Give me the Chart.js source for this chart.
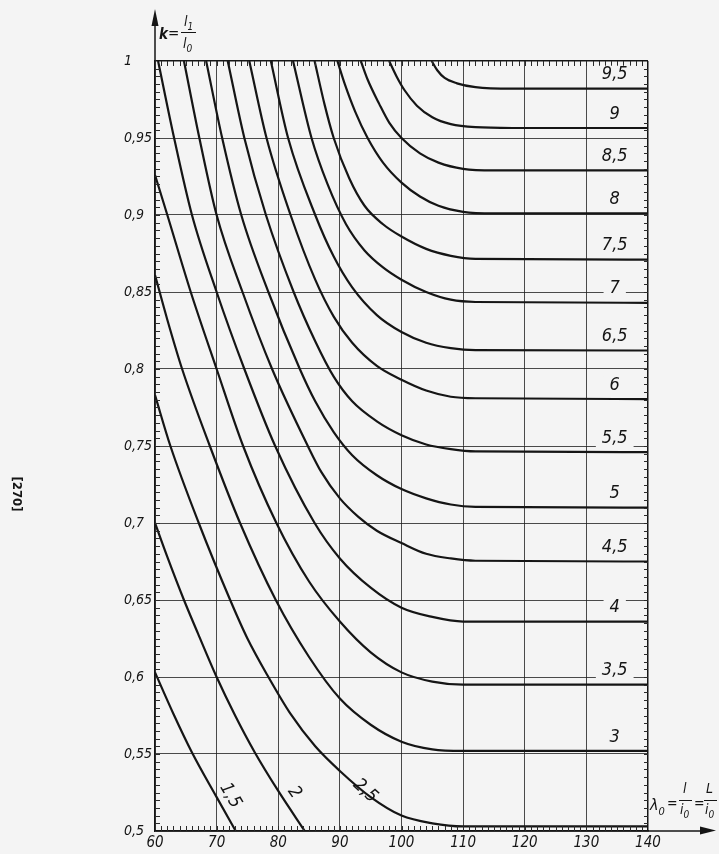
<!DOCTYPE html>
<html>
<head>
<meta charset="utf-8">
<style>
  html, body { margin: 0; padding: 0; background: #f4f4f4; }
  #wrap { width: 719px; height: 854px; }
</style>
</head>
<body>
<div id="wrap"><canvas id="chart" width="719" height="854"></canvas></div>
<script src="https://cdn.jsdelivr.net/npm/chart.js@4.4.1/dist/chart.umd.min.js"></script>
<script>
"use strict";

// axis ticks
const xTicks = [60, 70, 80, 90, 100, 110, 120, 130, 140];
const xTickLabels = ["60", "70", "80", "90", "100", "110", "120", "130", "140"];
const yTicks = [0.5, 0.55, 0.6, 0.65, 0.7, 0.75, 0.8, 0.85, 0.9, 0.95, 1];
const yTickLabels = ["0,5", "0,55", "0,6", "0,65", "0,7", "0,75", "0,8", "0,85", "0,9", "0,95", "1"];

// curve parameters (labels)
const curveNames = ["1,5", "2", "2,5", "3", "3,5", "4", "4,5", "5", "5,5", "6", "6,5", "7", "7,5", "8", "8,5", "9", "9,5"];

// [lambda0, k]
const c1_5 = [[60, 0.603], [63, 0.576], [66, 0.551], [70, 0.522], [73.1, 0.500]];
const c2 = [[60, 0.700], [62, 0.678], [64.7, 0.650], [67, 0.628], [70, 0.600], [73, 0.575], [76.2, 0.551], [80, 0.526], [84.3, 0.500]];
const c2_5 = [[60, 0.783], [62.5, 0.750], [67.1, 0.700], [72.2, 0.650], [75, 0.625], [78.4, 0.600], [82, 0.576], [86, 0.555], [90, 0.539], [95, 0.522], [100, 0.510], [105, 0.505], [110, 0.503], [140, 0.503]];
const c3 = [[60, 0.861], [62, 0.832], [64.4, 0.800], [68.9, 0.750], [73.8, 0.700], [79.6, 0.650], [85, 0.613], [90, 0.586], [95, 0.569], [100, 0.558], [105, 0.553], [110, 0.552], [140, 0.552]];
const c3_5 = [[60, 0.926], [62, 0.900], [65.8, 0.850], [70, 0.800], [74.3, 0.750], [79.7, 0.700], [85, 0.662], [90, 0.636], [95, 0.616], [100, 0.603], [105, 0.597], [110, 0.595], [140, 0.595]];
const c4 = [[60.5, 1.000], [63.1, 0.950], [66, 0.900], [70, 0.850], [74.5, 0.800], [79.5, 0.750], [85.9, 0.700], [90, 0.677], [95, 0.658], [100, 0.645], [105, 0.639], [110, 0.636], [140, 0.636]];
const c4_5 = [[64.7, 1.000], [67.2, 0.950], [70, 0.900], [74.2, 0.850], [79, 0.800], [84.8, 0.750], [87, 0.733], [90, 0.716], [93, 0.704], [96, 0.695], [100, 0.687], [104, 0.680], [108, 0.677], [112, 0.6755], [140, 0.675]];
const c5 = [[68.3, 1.000], [70.9, 0.950], [74, 0.900], [78.4, 0.850], [83.5, 0.800], [86, 0.779], [89, 0.759], [92, 0.744], [96, 0.731], [100, 0.722], [104, 0.716], [108, 0.712], [112, 0.7105], [140, 0.710]];
const c5_5 = [[71.8, 1.000], [74.5, 0.950], [78, 0.900], [82.5, 0.850], [86, 0.818], [89, 0.795], [92, 0.779], [96, 0.766], [100, 0.757], [104, 0.751], [108, 0.748], [112, 0.7465], [140, 0.746]];
const c6 = [[75.3, 1.000], [78.1, 0.950], [82, 0.900], [86, 0.858], [89, 0.834], [92, 0.817], [96, 0.802], [100, 0.793], [104, 0.786], [108, 0.782], [112, 0.781], [140, 0.7805]];
const c6_5 = [[78.8, 1.000], [81.6, 0.950], [86, 0.900], [89, 0.873], [92, 0.853], [96, 0.835], [100, 0.824], [104, 0.817], [108, 0.8135], [112, 0.8122], [140, 0.812]];
const c7 = [[82.4, 1.000], [85.4, 0.950], [88, 0.920], [91, 0.894], [94, 0.877], [97, 0.866], [100, 0.858], [104, 0.850], [108, 0.845], [112, 0.8435], [140, 0.843]];
const c7_5 = [[85.9, 1.000], [87.5, 0.972], [89, 0.950], [91.5, 0.924], [94, 0.906], [97, 0.894], [100, 0.886], [104, 0.878], [108, 0.8735], [112, 0.8715], [140, 0.871]];
const c8 = [[89.6, 1.000], [90.8, 0.985], [92.5, 0.967], [94.5, 0.950], [97, 0.934], [100, 0.921], [103, 0.912], [106, 0.906], [110, 0.902], [115, 0.901], [140, 0.901]];
const c8_5 = [[93.4, 1.000], [94.5, 0.988], [96.4, 0.972], [98, 0.960], [100, 0.950], [103, 0.940], [106, 0.934], [110, 0.930], [115, 0.929], [140, 0.929]];
const c9 = [[98, 1.000], [99.2, 0.990], [100.5, 0.981], [102.5, 0.971], [105, 0.9635], [108, 0.959], [112, 0.957], [118, 0.9565], [140, 0.9565]];
const c9_5 = [[104.9, 1.000], [105.8, 0.994], [107, 0.989], [109, 0.9855], [112, 0.983], [118, 0.982], [140, 0.982]];

const curves = [c1_5, c2, c2_5, c3, c3_5, c4, c4_5, c5, c5_5, c6, c6_5, c7, c7_5, c8, c8_5, c9, c9_5];

const FONT = "'Liberation Sans Narrow', 'DejaVu Sans Condensed', 'DejaVu Sans', sans-serif";
const BG = "#f4f4f4";
const INK = "#151515";

// labels of the three lower curves, drawn slanted near the x axis
const slantLabels = [[72.2, 0.523, 60], [82.6, 0.525, 55], [94.1, 0.526, 42]];

function subText(ctx, main, sub, x, y, size) {
    ctx.font = "italic " + size + "px " + FONT;
    ctx.fillText(main, x, y);
    const w = ctx.measureText(main).width;
    ctx.font = "italic " + Math.round(size * 0.7) + "px " + FONT;
    ctx.fillText(sub, x + w, y + size * 0.3);
}

const decor = {
    id: "decor",
    beforeDraw(chart) {
        const ctx = chart.ctx;
        ctx.save();
        ctx.fillStyle = BG;
        ctx.fillRect(0, 0, chart.width, chart.height);
        ctx.restore();
    },
    afterDatasetsDraw(chart) {
        const ctx = chart.ctx;
        const a = chart.chartArea;
        const x = chart.scales.x;
        const y = chart.scales.y;
        ctx.save();

        // ruler ticks along the four sides
        ctx.strokeStyle = "#2a2a2a";
        ctx.lineWidth = 1;
        ctx.beginPath();
        for (let v = 61; v < 140; v++) {
            const px = Math.round(x.getPixelForValue(v)) + 0.5;
            ctx.moveTo(px, a.bottom); ctx.lineTo(px, a.bottom - 5);
            ctx.moveTo(px, a.top); ctx.lineTo(px, a.top + 5);
        }
        for (let i = 1; i < 100; i++) {
            const py = Math.round(y.getPixelForValue(0.5 + i * 0.005)) + 0.5;
            ctx.moveTo(a.left, py); ctx.lineTo(a.left + 5, py);
            ctx.moveTo(a.right, py); ctx.lineTo(a.right - 4, py);
        }
        ctx.stroke();

        // axis arrows
        ctx.strokeStyle = INK;
        ctx.fillStyle = INK;
        ctx.lineWidth = 1.5;
        ctx.beginPath();
        ctx.moveTo(a.left, a.top); ctx.lineTo(a.left, 22);
        ctx.moveTo(a.right, a.bottom); ctx.lineTo(704, a.bottom);
        ctx.stroke();
        ctx.beginPath();
        ctx.moveTo(a.left, 9); ctx.lineTo(a.left - 3.5, 26); ctx.lineTo(a.left + 3.5, 26);
        ctx.closePath(); ctx.fill();
        ctx.beginPath();
        ctx.moveTo(716, a.bottom - 0.5); ctx.lineTo(700, a.bottom - 4.5); ctx.lineTo(700, a.bottom + 3.5);
        ctx.closePath(); ctx.fill();

        // curve labels on the right, just above each level
        ctx.font = "italic 18px " + FONT;
        ctx.textAlign = "center";
        ctx.textBaseline = "middle";
        chart.data.datasets.forEach(function (ds, i) {
            if (i < 3) return;
            const last = ds.data[ds.data.length - 1];
            const px = x.getPixelForValue(134.6);
            const py = y.getPixelForValue(last.y) - 14;
            const w = ctx.measureText(ds.label).width;
            ctx.fillStyle = BG;
            ctx.fillRect(px - w / 2 - 6, py - 9, w + 12, 18);
            ctx.fillStyle = INK;
            ctx.fillText(ds.label, px, py);
        });

        // slanted labels 1,5 / 2 / 2,5
        slantLabels.forEach(function (s, i) {
            ctx.save();
            ctx.translate(x.getPixelForValue(s[0]), y.getPixelForValue(s[1]));
            ctx.rotate(s[2] * Math.PI / 180);
            ctx.fillStyle = INK;
            ctx.fillText(curveNames[i], 0, 0);
            ctx.restore();
        });

        // y axis title  k = l1 / l0
        ctx.textAlign = "left";
        ctx.textBaseline = "alphabetic";
        ctx.fillStyle = INK;
        ctx.font = "italic bold 15px " + FONT;
        ctx.fillText("k", 159, 39);
        ctx.font = "15px " + FONT;
        ctx.fillText("=", 168, 38);
        subText(ctx, "l", "1", 184, 26, 14);
        subText(ctx, "l", "0", 183, 48, 14);
        ctx.lineWidth = 1;
        ctx.beginPath(); ctx.moveTo(181, 32.5); ctx.lineTo(196, 32.5); ctx.stroke();

        // x axis title  λ0 = l / i0 = L / i0
        subText(ctx, "λ", "0", 650, 810, 16);
        ctx.font = "14px " + FONT;
        ctx.fillText("=", 667, 808);
        subText(ctx, "l", "", 683, 793, 14);
        subText(ctx, "i", "0", 680, 814, 14);
        ctx.beginPath(); ctx.moveTo(679, 800.5); ctx.lineTo(692, 800.5); ctx.stroke();
        ctx.font = "14px " + FONT;
        ctx.fillText("=", 694, 808);
        subText(ctx, "L", "", 706, 793, 14);
        subText(ctx, "i", "0", 705, 814, 14);
        ctx.beginPath(); ctx.moveTo(704, 800.5); ctx.lineTo(717, 800.5); ctx.stroke();

        // page number at the margin
        ctx.save();
        ctx.translate(16, 494);
        ctx.rotate(Math.PI / 2);
        ctx.textAlign = "center";
        ctx.textBaseline = "middle";
        ctx.font = "bold 13px " + FONT;
        ctx.fillText("[270]", 0, 0);
        ctx.restore();

        ctx.restore();
    }
};

const ctx = document.getElementById("chart");
const myChart = new Chart(ctx, {
    type: "line",
    data: {
        datasets: curves.map(function (pts, i) {
            return {
                label: curveNames[i],
                data: pts.map(function (p) { return { x: p[0], y: p[1] }; }),
                borderColor: INK,
                borderWidth: 2.2,
                pointRadius: 0,
                fill: false,
                cubicInterpolationMode: "monotone"
            };
        })
    },
    options: {
        responsive: false,
        animation: false,
        devicePixelRatio: 1,
        layout: { padding: { left: 124, right: 71, top: 61, bottom: 0 } },
        plugins: {
            legend: { display: false },
            tooltip: { enabled: false }
        },
        scales: {
            x: {
                type: "linear",
                min: 60,
                max: 140,
                afterBuildTicks: function (scale) {
                    scale.ticks = xTicks.map(function (v) { return { value: v }; });
                },
                afterFit: function (scale) { scale.height = 23; },
                ticks: {
                    autoSkip: false,
                    maxRotation: 0,
                    padding: 3,
                    color: INK,
                    font: { family: FONT, size: 15, style: "italic" },
                    callback: function (v) { return xTickLabels[xTicks.indexOf(v)]; }
                },
                grid: {
                    drawTicks: false,
                    color: function (c) { return c.tick && c.tick.value === 140 ? INK : "rgba(30,30,30,0.8)"; },
                    lineWidth: function (c) { return c.tick && c.tick.value === 140 ? 1.5 : 1; }
                },
                border: { display: true, color: INK, width: 1.5 }
            },
            y: {
                type: "linear",
                min: 0.5,
                max: 1,
                afterBuildTicks: function (scale) {
                    scale.ticks = yTicks.map(function (v) { return { value: v }; });
                },
                afterFit: function (scale) { scale.width = 31; },
                ticks: {
                    autoSkip: false,
                    crossAlign: "far",
                    color: INK,
                    font: { family: FONT, size: 14, style: "italic" },
                    callback: function (v) { return yTickLabels[yTicks.indexOf(v)]; }
                },
                grid: {
                    drawTicks: false,
                    color: function (c) { return c.tick && c.tick.value === 1 ? INK : "rgba(30,30,30,0.8)"; },
                    lineWidth: function (c) { return c.tick && c.tick.value === 1 ? 1.5 : 1; }
                },
                border: { display: true, color: INK, width: 1.5 }
            }
        }
    },
    plugins: [decor]
});
</script>
</body>
</html>
